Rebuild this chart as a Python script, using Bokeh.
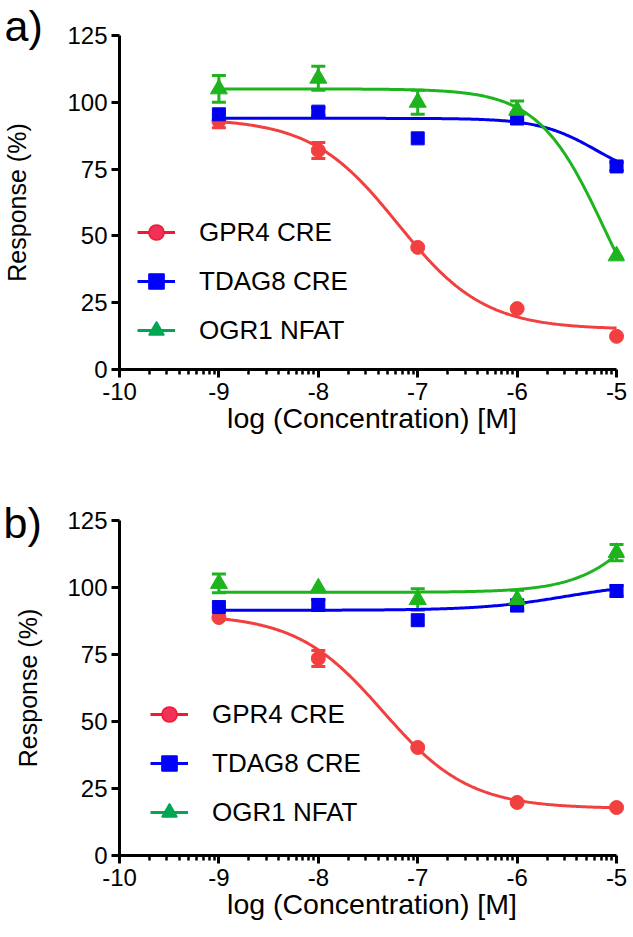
from bokeh.plotting import figure
from bokeh.models import (Range1d, FixedTicker, Whisker, TeeHead, ColumnDataSource,
                          Legend, LegendItem, Title)
from bokeh.layouts import column
from bokeh.embed import file_html
from bokeh.resources import INLINE
import numpy as np

# ---------------- data ----------------
log_conc = [-9, -8, -7, -6, -5]
series_names = ["GPR4 CRE", "TDAG8 CRE", "OGR1 NFAT"]

# panel a)
a_gpr4 = [93.0, 82.0, 45.7, 22.8, 12.4]
a_gpr4_err = [2.5, 3.0, 0.0, 0.0, 0.0]
a_tdag8 = [95.5, 96.5, 86.5, 94.0, 76.0]
a_tdag8_err = [0.0, 1.5, 0.0, 2.0, 1.5]
a_ogr1 = [105.0, 109.0, 100.0, 97.0, 42.5]
a_ogr1_err = [5.0, 4.5, 4.5, 3.5, 0.0]

# panel b)
b_gpr4 = [88.8, 73.5, 40.3, 19.8, 17.9]
b_gpr4_err = [0.0, 3.0, 0.0, 0.0, 0.0]
b_tdag8 = [92.7, 93.5, 87.8, 93.3, 98.7]
b_tdag8_err = [0.0, 2.0, 0.0, 2.0, 2.0]
b_ogr1 = [101.5, 99.8, 95.5, 95.5, 113.0]
b_ogr1_err = [3.5, 0.0, 4.0, 3.5, 3.0]

# four-parameter logistic fits: (bottom, top, logEC50, hill)
a_fits = [(15.0, 94.0, -7.2, -1.0), (70.0, 94.0, -5.2, -1.5), (0.0, 105.0, -5.12, -1.3)]
b_fits = [(17.5, 90.0, -7.35, -1.0), (91.5, 102.0, -5.5, 1.0), (98.2, 168.0, -4.5, 1.2)]

x_ticks = [-10, -9, -8, -7, -6, -5]
x_tick_labels = ["-10", "-9", "-8", "-7", "-6", "-5"]
y_ticks = [0, 25, 50, 75, 100, 125]

# ---------------- style ----------------
FONT = "Liberation Sans"
colors = ["#F24040", "#0000EE", "#1EB41E"]
legend_line_colors = ["#EE1C2E", "#0000FF", "#00A651"]
legend_fill_colors = ["#F2305A", "#0000FF", "#00A651"]
markers = ["circle", "square", "triangle"]
marker_sizes = [14, 13, 17]
TAG_SIZE = 43


def four_pl(x, bottom, top, logec50, hill):
    return bottom + (top - bottom) / (1.0 + 10.0 ** ((logec50 - x) * hill))


minor = [d + np.log10(k) for d in range(-10, -5) for k in range(2, 10)]


def make_panel(tag, means, errs, fits, width, height, left, top, bottom,
               ylab_standoff, legend_loc, tag_baseline):
    p = figure(width=width, height=height, x_range=Range1d(-10, -4.92),
               y_range=Range1d(0, 125), output_backend="svg", toolbar_location=None,
               min_border_left=left, min_border_right=width - left - 509,
               min_border_top=top, min_border_bottom=bottom)
    p.outline_line_color = None
    p.xgrid.visible = False
    p.ygrid.visible = False
    p.background_fill_color = "white"
    p.border_fill_color = "white"

    for ax in (p.xaxis[0], p.yaxis[0]):
        ax.axis_line_width = 3
        ax.major_tick_line_width = 3
        ax.minor_tick_line_width = 2.5
        ax.major_tick_out = 8
        ax.major_tick_in = 0
        ax.major_label_text_font = FONT
        ax.major_label_text_font_size = "24px"
        ax.major_label_text_color = "black"
        ax.axis_label_text_font = FONT
        ax.axis_label_text_font_style = "normal"
        ax.axis_label_text_color = "black"

    xa = p.xaxis[0]
    xa.ticker = FixedTicker(ticks=x_ticks, minor_ticks=minor)
    xa.major_label_overrides = dict(zip(x_ticks, x_tick_labels))
    xa.minor_tick_out = 5
    xa.minor_tick_in = 0
    xa.bounds = (-10, -5)
    xa.axis_label = "log (Concentration) [M]"
    xa.axis_label_text_font_size = "28.5px"
    xa.major_label_standoff = 5
    xa.axis_label_standoff = -1

    ya = p.yaxis[0]
    ya.ticker = FixedTicker(ticks=y_ticks)
    ya.minor_tick_out = 0
    ya.minor_tick_in = 0
    ya.axis_label = "Response (%)"
    ya.axis_label_text_font_size = "25px"
    ya.major_label_standoff = 4
    ya.axis_label_standoff = ylab_standoff

    xs = np.linspace(-9, -5, 300)
    items = []
    for i in range(3):
        col = colors[i]
        p.line(xs, four_pl(xs, *fits[i]), line_color=col, line_width=3)
        xe = [x for x, e in zip(log_conc, errs[i]) if e > 0]
        me = [m for m, e in zip(means[i], errs[i]) if e > 0]
        ee = [e for e in errs[i] if e > 0]
        src = ColumnDataSource(dict(x=xe, upper=[m + e for m, e in zip(me, ee)],
                                    lower=[m - e for m, e in zip(me, ee)]))
        w = Whisker(source=src, base="x", upper="upper", lower="lower",
                    dimension="height", line_color=col, line_width=3,
                    upper_head=TeeHead(size=14, line_color=col, line_width=3),
                    lower_head=TeeHead(size=14, line_color=col, line_width=3))
        p.add_layout(w)
        p.scatter(log_conc, means[i], marker=markers[i], size=marker_sizes[i],
                  fill_color=col, line_color=col, line_width=1)
        lr = p.line([float("nan")], [float("nan")], line_color=legend_line_colors[i],
                    line_width=3)
        mr = p.scatter([float("nan")], [float("nan")], marker=markers[i],
                       fill_color=legend_fill_colors[i],
                       line_color=legend_line_colors[i], line_width=1.5)
        items.append(LegendItem(label=series_names[i], renderers=[lr, mr]))

    leg = Legend(items=items, location=legend_loc, glyph_width=38, glyph_height=40,
                 spacing=9, label_standoff=24, padding=0, margin=0,
                 border_line_color=None, background_fill_alpha=0,
                 label_text_font=FONT, label_text_font_size="26px",
                 label_text_color="black")
    p.add_layout(leg)

    # panel tag as a title in the top border; a negative standoff lets it hang
    # down beside the y axis (descent of the font ~0.212 em)
    descent = 0.212 * TAG_SIZE
    standoff = 2 * (top - (tag_baseline + descent))
    p.add_layout(Title(text=tag, align="left", vertical_align="bottom",
                       offset=-left, standoff=standoff, text_font=FONT,
                       text_font_size=f"{TAG_SIZE}px", text_font_style="normal",
                       text_color="black"), "above")
    return p


pa = make_panel("a)", [a_gpr4, a_tdag8, a_ogr1], [a_gpr4_err, a_tdag8_err, a_ogr1_err],
                a_fits, 630, 467, 115, 35, 98, 33, (18, 19), 40)
pb = make_panel("b)", [b_gpr4, b_tdag8, b_ogr1], [b_gpr4_err, b_tdag8_err, b_ogr1_err],
                b_fits, 630, 470, 116, 53, 82, 22, (31, 23), 70)

layout = column(pa, pb)
open("out.html", "w").write(file_html(layout, INLINE))
